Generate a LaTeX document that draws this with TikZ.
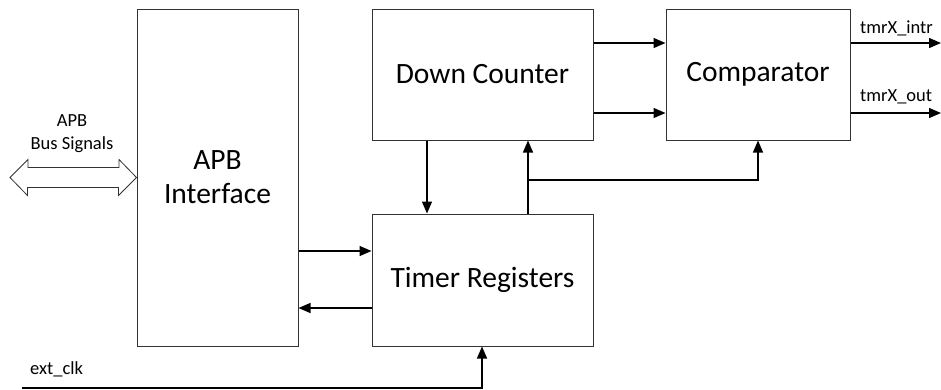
\documentclass[tikz,border=0pt]{standalone}
\usepackage{fontspec}
\setmainfont{Carlito}
\usetikzlibrary{arrows.meta}
\begin{document}
\begin{tikzpicture}[x=1pt,y=-1pt,
  blk/.style={draw=black!80,line width=1pt,fill=white,inner sep=0pt,font=\fontsize{29.5}{34}\selectfont,align=center},
  sig/.style={line width=1.4pt,-{Triangle[length=12pt,width=10pt]}},
  busarrow/.style={draw=black!80,line width=0.8pt,line join=miter},
  lbl/.style={font=\fontsize{18.5}{23}\selectfont,inner sep=0pt,align=center}]
\useasboundingbox (0,0) rectangle (941,389);
\node[blk,minimum width=161pt,minimum height=337pt] (apb) at (217.5,177.5) {APB\\Interface};
\node[blk,minimum width=221pt,minimum height=131pt] (dc) at (482.5,74.5) {Down Counter};
\node[blk,minimum width=221pt,minimum height=132pt] (tr) at (482.5,280) {Timer Registers};
\node[blk,minimum width=184pt,minimum height=131pt] (cmp) at (758,74.5) {Comparator};
% outputs
\coordinate (o1) at (941,43);
\coordinate (o2) at (941,113);
\draw[sig] (dc.east |- 0,43) -- (cmp.west |- 0,43);
\draw[sig] (dc.east |- 0,113) -- (cmp.west |- 0,113);
\draw[sig] (cmp.east |- o1) -- (o1);
\draw[sig] (cmp.east |- o2) -- (o2);
\node[lbl,anchor=base west] (l1) at (860,33) {tmrX\_intr};
\node[lbl,anchor=base west] (l2) at (860,101) {tmrX\_out};
% DC <-> TR
\draw[sig] (dc.south -| 427,0) -- (tr.north -| 427,0);
\coordinate (br) at (528,180);
\draw[sig] (tr.north -| br) -- (dc.south -| br);
\draw[sig] (br) -| (cmp.south -| 758,0);
% APB <-> TR
\draw[sig] (apb.east |- 0,251) -- (tr.west |- 0,251);
\draw[sig] (tr.west |- 0,308) -- (apb.east |- 0,308);
% ext_clk
\coordinate (ck) at (22,388);
\draw[sig] (ck) -| (tr.south -| 482,0);
\node[lbl,anchor=base west] (ckl) at (30,374) {ext\_clk};
% bus arrow
\coordinate (bl) at (10,177.5);
\draw[busarrow] (bl) -- ++(18,-18) -- ++(0,8) -- ++(91,0) -- ++(0,-8) -- (apb.west |- bl)
  -- ++(-18,18) -- ++(0,-8) -- ++(-91,0) -- ++(0,8) -- cycle;
\node[lbl] (busl) at (72,133.5) {APB\\Bus Signals};
\end{tikzpicture}
\end{document}
